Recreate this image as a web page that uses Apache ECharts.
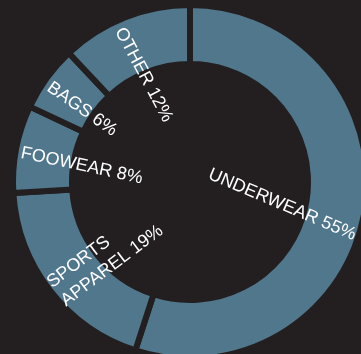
<!DOCTYPE html>
<html>
<head>
<meta charset="utf-8">
<script src="https://cdn.jsdelivr.net/npm/echarts@6/dist/echarts.min.js"></script>
<style>
  html, body { margin: 0; padding: 0; background: #231f20; }
  #chart { width: 361px; height: 354px; }
</style>
</head>
<body>
<div id="chart"></div>
<script>
// Sales mix by product line (percent of total)
const categories = ['UNDERWEAR', 'SPORTS\nAPPAREL', 'FOOWEAR', 'BAGS', 'OTHER'];
const shares = [55, 19, 8, 6, 12];

const BG = '#231f20';
const SLICE = '#50778c';

// Hand-set label angles (degrees, counter-clockwise) and screen nudges in px
const labelTilt = { 'UNDERWEAR': -23, 'SPORTS\nAPPAREL': 37, 'FOOWEAR': -12, 'BAGS': -35, 'OTHER': -62 };
const labelNudge = {
  'UNDERWEAR': [-5, 28],
  'SPORTS\nAPPAREL': [2, 6],
  'FOOWEAR': [0, 3],
  'BAGS': [-2, 5],
  'OTHER': [-8, 7]
};

const chart = echarts.init(document.getElementById('chart'), null, { renderer: 'canvas' });

chart.setOption({
  backgroundColor: BG,
  animation: false,
  series: [{
    type: 'pie',
    center: [190, 182],
    radius: [118, 177],
    startAngle: 90,
    clockwise: true,
    avoidLabelOverlap: false,
    itemStyle: {
      color: SLICE,
      borderColor: BG,
      borderWidth: 6
    },
    label: {
      show: true,
      position: 'outside',
      rotate: 'radial',
      distanceToLabelLine: 0,
      color: '#ffffff',
      fontFamily: 'Liberation Sans, Arial, sans-serif',
      fontSize: 18,
      lineHeight: 23,
      padding: [0, 5],
      formatter: p => p.name + ' ' + p.value + '%'
    },
    labelLine: { show: false, length: 0, length2: 0 },
    // anchor each label at the rim and let it run inward toward the hole;
    // dx/dy act in the label's own rotated frame, so turn the screen nudge into it
    labelLayout: p => {
      const name = categories[p.dataIndex];
      const tilt = labelTilt[name];
      const g = labelNudge[name] || [0, 0];
      const a = -tilt * Math.PI / 180;
      const c = Math.cos(a), s = Math.sin(a);
      return {
        align: p.align === 'left' ? 'right' : 'left',
        rotate: tilt,
        dx: g[0] * c + g[1] * s,
        dy: -g[0] * s + g[1] * c
      };
    },
    emphasis: { disabled: true },
    data: categories.map((name, i) => ({ name: name, value: shares[i] }))
  }]
});
</script>
</body>
</html>
